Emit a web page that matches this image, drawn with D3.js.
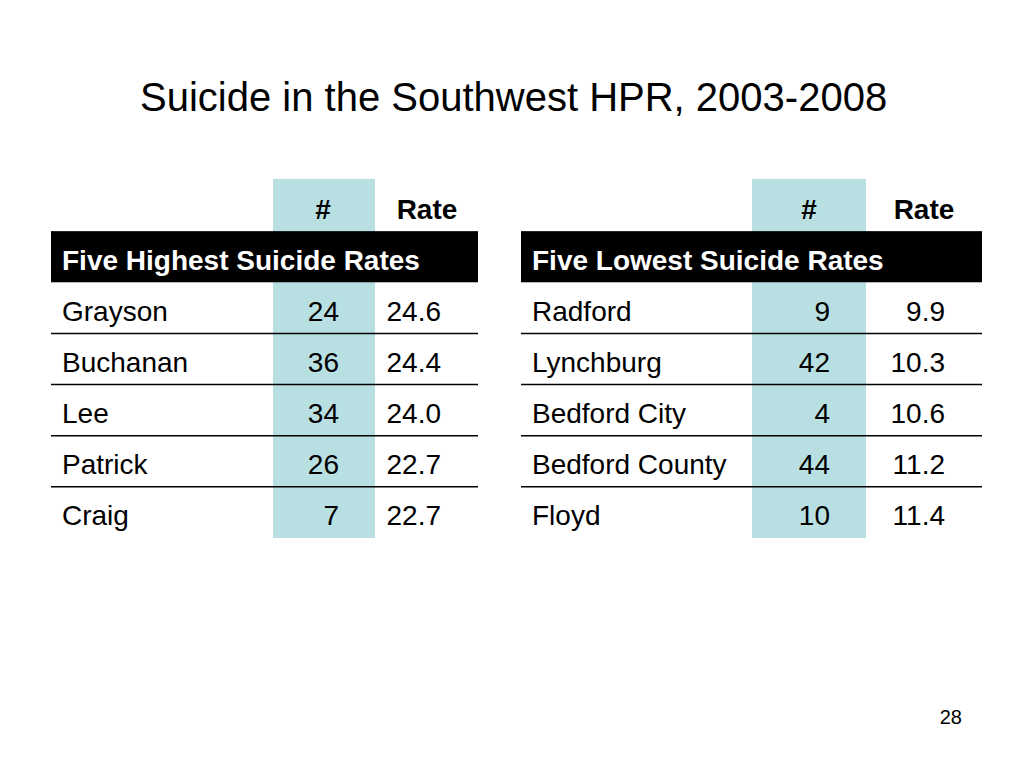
<!DOCTYPE html>
<html>
<head>
<meta charset="utf-8">
<script src="https://cdn.jsdelivr.net/npm/d3@7"></script>
<style>
  body { margin: 0; background: #fff; }
  svg { font-family: "Liberation Sans", Arial, sans-serif; }
</style>
</head>
<body>
<svg id="slide" width="1024" height="768"></svg>
<script>
const TITLE = "Suicide in the Southwest HPR, 2003-2008";
const PAGE = "28";

const HIGH_TITLE = "Five Highest Suicide Rates";
const HIGH_NAMES = ["Grayson", "Buchanan", "Lee", "Patrick", "Craig"];
const HIGH_COUNTS = [24, 36, 34, 26, 7];
const HIGH_RATES = [24.6, 24.4, 24.0, 22.7, 22.7];

const LOW_TITLE = "Five Lowest Suicide Rates";
const LOW_NAMES = ["Radford", "Lynchburg", "Bedford City", "Bedford County", "Floyd"];
const LOW_COUNTS = [9, 42, 4, 44, 10];
const LOW_RATES = [9.9, 10.3, 10.6, 11.2, 11.4];

const COLUMNS = ["#", "Rate"];

const BLUE = "#b8dfe2";
const FONT = 28;
const svg = d3.select("#slide");

svg.append("text")
  .attr("x", 140).attr("y", 111)
  .style("font-size", "40px")
  .text(TITLE);

svg.append("text")
  .attr("x", 962).attr("y", 724)
  .style("font-size", "20px")
  .attr("text-anchor", "end")
  .text(PAGE);

const drawTable = (cfg) => {
  const g = svg.append("g");
  const rows = ["header", "title"].concat(cfg.names.map((d, i) => i));
  const y = d3.scaleBand().domain(rows).range([180, 538]);
  const base = (r) => y(r) + y.bandwidth() / 2 + 13;

  // blue count column
  g.append("rect")
    .attr("x", cfg.blue[0]).attr("width", cfg.blue[1] - cfg.blue[0])
    .attr("y", 179).attr("height", 538 - 179)
    .attr("fill", BLUE);

  // black title band
  g.append("rect")
    .attr("x", cfg.x0).attr("width", cfg.x1 - cfg.x0)
    .attr("y", y("title")).attr("height", y.bandwidth())
    .attr("fill", "#000");

  g.append("text")
    .attr("x", cfg.x0 + 11).attr("y", base("title"))
    .style("font-size", FONT + "px").style("font-weight", "bold")
    .attr("fill", "#fff")
    .text(cfg.title);

  // column headers
  g.selectAll("text.col")
    .data(COLUMNS)
    .join("text")
    .attr("class", "col")
    .attr("x", (d, i) => cfg.headX[i])
    .attr("y", base("header"))
    .attr("text-anchor", "middle")
    .style("font-size", FONT + "px").style("font-weight", "bold")
    .text((d) => d);

  const idx = cfg.names.map((d, i) => i);

  // separators
  g.selectAll("line.sep")
    .data(idx.slice(0, -1))
    .join("line")
    .attr("x1", cfg.x0).attr("x2", cfg.x1)
    .attr("y1", (i) => y(i) + y.bandwidth())
    .attr("y2", (i) => y(i) + y.bandwidth())
    .attr("stroke", "#000").attr("stroke-width", 1.5);

  const rowText = (sel, xPos, anchor, fmt) =>
    sel.data(idx).join("text")
      .attr("x", xPos)
      .attr("y", base)
      .attr("text-anchor", anchor)
      .style("font-size", FONT + "px")
      .text(fmt);

  rowText(g.append("g").selectAll("text"), cfg.x0 + 11, "start", (i) => cfg.names[i]);
  rowText(g.append("g").selectAll("text"), cfg.countX, "end", (i) => cfg.counts[i]);
  rowText(g.append("g").selectAll("text"), cfg.rateX, "end", (i) => cfg.rates[i].toFixed(1));
};

drawTable({
  title: HIGH_TITLE, names: HIGH_NAMES, counts: HIGH_COUNTS, rates: HIGH_RATES,
  x0: 51, x1: 478, blue: [273, 375], headX: [323, 427], countX: 339, rateX: 441
});

drawTable({
  title: LOW_TITLE, names: LOW_NAMES, counts: LOW_COUNTS, rates: LOW_RATES,
  x0: 521, x1: 982, blue: [752, 866], headX: [809, 924], countX: 830, rateX: 945
});
</script>
</body>
</html>
